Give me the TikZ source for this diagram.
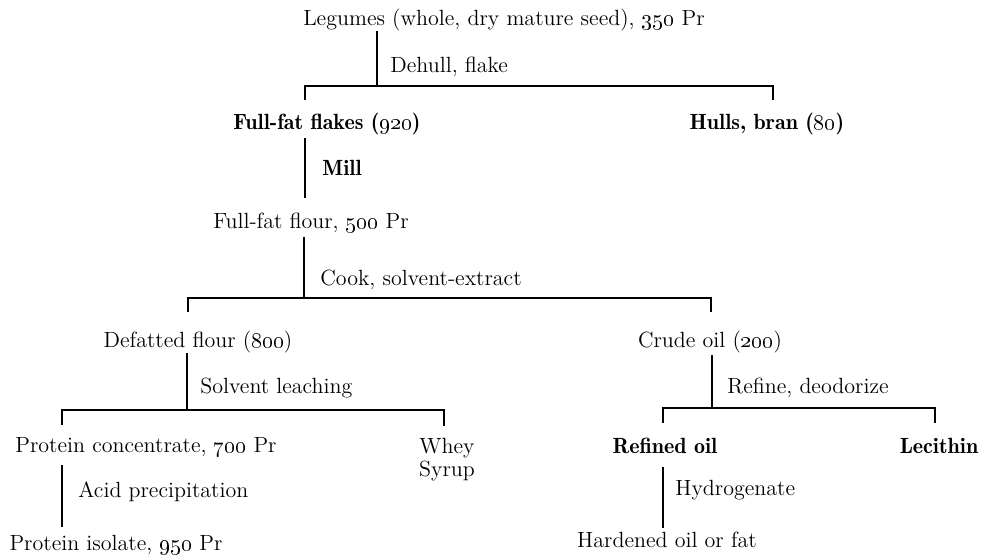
\documentclass[tikz,border=0pt]{standalone}
\usetikzlibrary{positioning}

\begin{document}
\begin{tikzpicture}[
  x=0.5pt, y=-0.5pt,
  item/.style={inner sep=0pt, anchor=base, text height=8pt, text depth=3pt,
    font=\fontsize{11}{13}\selectfont},
  bolditem/.style={item, font=\fontsize{11}{13}\selectfont\fontseries{b}\selectfont},
  pair/.style={inner sep=0pt, anchor=north, align=center,
    font=\fontsize{11}{11.5}\selectfont},
  proc/.style={item, anchor=base west},
  boldproc/.style={bolditem, anchor=base west},
  link/.style={line width=1.2pt}
]
  \useasboundingbox (0,0) rectangle (986,559);

  % products
  \node[item] (legumes) at (504,25) {Legumes (whole, dry mature seed), \oldstylenums{350} Pr};
  \node[bolditem] (flakes) at (327,129) {Full-fat flakes (\oldstylenums{920})};
  \node[bolditem] (hulls) at (767,129) {Hulls, bran (\oldstylenums{80})};
  \node[item] (flour) at (311,228) {Full-fat flour, \oldstylenums{500} Pr};
  \node[item] (defat) at (198,347) {Defatted flour (\oldstylenums{800})};
  \node[item] (crude) at (710,347) {Crude oil (\oldstylenums{200})};
  \node[item] (conc) at (146,452) {Protein concentrate, \oldstylenums{700} Pr};
  \node[pair] (whey) at (447,438) {Whey\\Syrup};
  \node[item] (isolate) at (116,550) {Protein isolate, \oldstylenums{950} Pr};
  \node[bolditem] (refined) at (665,453) {Refined oil};
  \node[bolditem] (lecithin) at (939,453) {Lecithin};
  \node[item] (hardened) at (667,547) {Hardened oil or fat};

  % process steps
  \node[proc] (dehull) at (390,72) {Dehull, flake};
  \node[boldproc] (mill) at (322,175) {Mill};
  \node[proc] (cook) at (320,285) {Cook, solvent-extract};
  \node[proc] (leach) at (200,393) {Solvent leaching};
  \node[proc] (acid) at (78,497) {Acid precipitation};
  \node[proc] (refine) at (727,393) {Refine, deodorize};
  \node[proc] (hydro) at (675,495) {Hydrogenate};

  % junctions
  \coordinate (j1) at (377,86);
  \coordinate (b1l) at (305,86);
  \coordinate (b1r) at (773,86);
  \coordinate (j2) at (304,298);
  \coordinate (b2l) at (188,298);
  \coordinate (b2r) at (711,298);
  \coordinate (j3) at (187,410);
  \coordinate (b3l) at (62,410);
  \coordinate (b3r) at (444,410);
  \coordinate (j4) at (712,408);
  \coordinate (b4l) at (663,408);
  \coordinate (b4r) at (935,408);

  \draw[link] (legumes.south -| j1) -- (j1);
  \draw[link, shorten <=6.5pt, shorten >=6.5pt]
    (b1l |- flakes.north) -- (b1l) -- (b1r) -- (b1r |- hulls.north);
  \draw[link, shorten <=1.5pt, shorten >=7pt] (flakes.south -| b1l) -- (flour.north -| b1l);

  \draw[link, shorten <=1.5pt] (flour.south -| j2) -- (j2);
  \draw[link, shorten <=9.5pt, shorten >=9.5pt]
    (b2l |- defat.north) -- (b2l) -- (b2r) -- (b2r |- crude.north);

  \draw[link] (defat.south -| j3) -- (j3);
  \draw[link, shorten <=5.5pt, shorten >=6pt]
    (b3l |- conc.north) -- (b3l) -- (b3r) -- (b3r |- whey.north);
  \draw[link, shorten <=3.5pt, shorten >=3.5pt] (conc.south -| b3l) -- (isolate.north -| b3l);

  \draw[link, shorten <=1pt] (crude.south -| j4) -- (j4);
  \draw[link, shorten <=7pt, shorten >=7pt]
    (b4l |- refined.north) -- (b4l) -- (b4r) -- (b4r |- lecithin.north);
  \draw[link, shorten <=4pt, shorten >=1.5pt] (refined.south -| b4l) -- (hardened.north -| b4l);
\end{tikzpicture}
\end{document}
